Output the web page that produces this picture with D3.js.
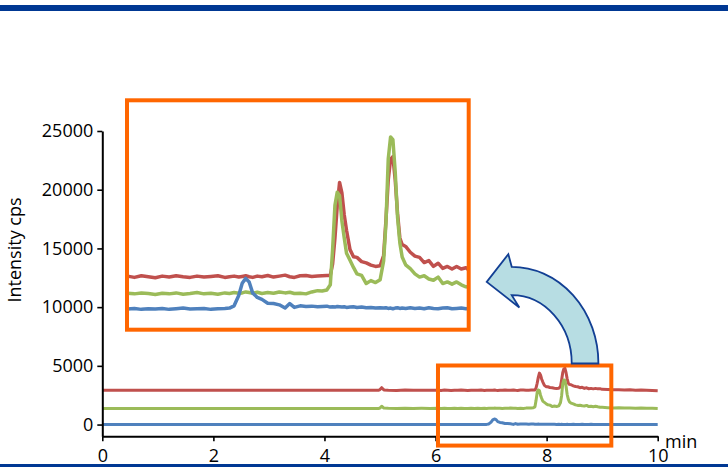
<!DOCTYPE html>
<html>
<head>
<meta charset="utf-8">
<script src="https://cdn.jsdelivr.net/npm/d3@7"></script>
<style>
  html, body { margin: 0; padding: 0; background: #fff; }
  svg { display: block; font-family: "Open Sans", sans-serif; }
</style>
</head>
<body>
<svg id="chart" width="728" height="467"></svg>
<script>
// retention time grid, min (finer around the peaks)
const times = [
  0, 4.97, 5.00, 5.03, 5.07, 5.15, 5.30, 5.45, 5.60, 5.75, 5.90,
  6.04, 6.10, 6.16, 6.22, 6.28, 6.34, 6.40, 6.46, 6.52, 6.58,
  6.64, 6.70, 6.76, 6.82, 6.88, 6.92, 6.96, 7.00, 7.03, 7.06,
  7.09, 7.12, 7.16, 7.20, 7.25, 7.30, 7.35, 7.40, 7.44, 7.48,
  7.53, 7.58, 7.63, 7.68, 7.72, 7.76, 7.79, 7.81, 7.83, 7.85,
  7.87, 7.89, 7.91, 7.93, 7.96, 7.99, 8.02, 8.06, 8.10, 8.14,
  8.18, 8.22, 8.25, 8.27, 8.29, 8.31, 8.33, 8.35, 8.37, 8.39,
  8.41, 8.44, 8.48, 8.52, 8.56, 8.60, 8.64, 8.68, 8.72, 8.76,
  8.80, 8.84, 8.88, 8.92, 8.96, 9.00,
  9.1, 9.2, 9.3, 9.4, 9.5, 9.6, 9.7, 9.8, 9.9, 10.0
];

// signal above each trace's own baseline, cps
const redSignal = [
  0, 0, 60, 220, 30, 10, -10, 15, 0, 10, -5,
  10, -10, 15, 0, -15, 10, -5, 15, 0, -10,
  10, -5, 5, 15, -10, 0, 10, -5, 5, 15,
  0, -10, 10, 0, 20, -5, 10, 25, 0, -10,
  15, 20, 5, 10, 15, 20, 20, 200, 600, 1100,
  1460, 1300, 960, 720, 420, 310, 300, 235, 215, 180,
  160, 170, 330, 875, 1500, 1820, 1860, 1500, 980, 600,
  500, 470, 380, 320, 300, 220, 250, 160, 210, 130,
  160, 120, 160, 120, 140, 80,
  60, 40, 50, 20, 40, 10, 30, 0, -20, -40
];
const greenSignal = [
  0, 0, 50, 200, 40, 20, 10, 25, 10, 20, 15,
  20, 10, 25, 15, 0, 20, 10, 25, 5, 15,
  30, 10, 20, 5, 25, 15, 30, 20, 25, 40,
  30, 20, 35, 15, 30, 20, 40, 25, 35, 15,
  20, 10, 40, 60, 55, 70, 150, 700, 1380, 1585,
  1530, 1140, 880, 640, 530, 420, 320, 295, 170, 215,
  185, 230, 520, 1100, 2100, 2440, 2400, 1900, 1200, 800,
  580, 460, 400, 320, 270, 290, 240, 220, 270, 170,
  195, 160, 195, 150, 120, 110,
  80, 60, 70, 40, 50, 30, 40, 20, 30, 10
];
const blueSignal = [
  0, 0, 5, 0, -5, 5, 0, 10, -5, 5, 0,
  0, 10, -5, 5, 0, 10, -5, 5, 15, 0,
  5, 10, -5, 5, 10, 15, 50, 210, 400, 475,
  420, 250, 180, 150, 90, 85, 65, 15, 85, 25,
  50, 40, 45, 35, 40, 45, 30, 35, 30, 40,
  35, 30, 35, 25, 30, 35, 25, 30, 20, 25,
  15, 20, 15, 20, 10, 15, 5, 15, 20, 10,
  15, 10, 20, 10, 15, 5, 20, 10, 5, 15,
  20, 5, 10, 15, 5, 10,
  5, 10, 0, 5, -5, 10, 0, 5, 0, 5
];

const seriesColors = ["#c0504d", "#9bbb59", "#4f81bd"];
const mainOffsets = [2920, 1360, 0];    // stacking offsets in the full view
const insetOffsets = [500, 225, 0];     // stacking offsets in the enlarged view
const xTicks = [0, 2, 4, 6, 8, 10];
const yTicks = [0, 5000, 10000, 15000, 20000, 25000];
const zoomWindow = [6.044, 9.165];      // min, region shown enlarged
const zoomRange = [-1790, 5030];        // cps

const signals = [redSignal, greenSignal, blueSignal];
signals.forEach(s => { if (s.length !== times.length) console.error("length mismatch", s.length); });

const svg = d3.select("#chart");
const W = 728;
const orange = "#ff6600";

// slide rules top and bottom
svg.append("rect").attr("x", 0).attr("y", 5).attr("width", W).attr("height", 6).attr("fill", "#003893");
svg.append("rect").attr("x", 0).attr("y", 464).attr("width", W).attr("height", 3).attr("fill", "#003893");

const x = d3.scaleLinear().domain([0, 10]).range([102.3, 657.7]);
const y = d3.scaleLinear().domain([-1000, 25000]).range([436.3, 131]);

const traces = signals.map((s, i) => times.map((t, j) => ({ t: t, v: s[j] })));

// full chromatogram
const gMain = svg.append("g");
traces.forEach((pts, i) => {
  const line = d3.line().x(d => x(d.t)).y(d => y(d.v + mainOffsets[i]));
  gMain.append("path")
    .datum(pts)
    .attr("d", line)
    .attr("fill", "none")
    .attr("stroke", seriesColors[i])
    .attr("stroke-width", 3)
    .attr("stroke-linejoin", "round");
});

// axes
const yAxis = d3.axisLeft(y).tickValues(yTicks).tickSize(5).tickSizeOuter(0)
  .tickPadding(4).tickFormat(d3.format("d"));
const xAxis = d3.axisBottom(x).tickValues(xTicks).tickSize(5).tickSizeOuter(0)
  .tickPadding(7.5).tickFormat(d3.format("d"));

const gy = svg.append("g").attr("transform", `translate(${x(0)},0)`).call(yAxis);
const gx = svg.append("g").attr("transform", `translate(0,${y(-1000)})`).call(xAxis);
[gx, gy].forEach(g => {
  g.attr("font-family", null).attr("font-size", null);
  g.select(".domain").attr("stroke", "#000").attr("stroke-width", 2);
  g.selectAll(".tick line").attr("stroke", "#000").attr("stroke-width", 1.6);
  g.selectAll(".tick text").attr("fill", "#000").style("font-size", "18px");
});

svg.append("text")
  .attr("x", 665).attr("y", 448)
  .style("font-size", "18px")
  .text("min");

svg.append("text")
  .attr("transform", "translate(21,250) rotate(-90)")
  .attr("text-anchor", "middle")
  .style("font-size", "18px")
  .text("Intensity cps");

// zoom window on the full chromatogram
const bx0 = x(zoomWindow[0]), bx1 = x(zoomWindow[1]);
const by0 = y(zoomRange[1]), by1 = y(zoomRange[0]);
svg.append("rect")
  .attr("x", bx0).attr("y", by0)
  .attr("width", bx1 - bx0).attr("height", by1 - by0)
  .attr("fill", "none").attr("stroke", orange).attr("stroke-width", 4);

// curved arrow pointing from the window to the enlargement
const cx = bx1 - 99.6, cy = by0 - 2;
const rxo = 86.7, ryo = 96.7, rxi = 60, ryi = 68.3;
const arrowPath = `M${cx + rxo},${cy} A${rxo},${ryo} 0 0 0 ${cx},${cy - ryo}`
  + ` L${cx - 3.4},${cy - 109.3} L${cx - 25},${cy - 81.6} L${cx + 7.6},${cy - 56}`
  + ` L${cx},${cy - ryi} A${rxi},${ryi} 0 0 1 ${cx + rxi},${cy} Z`;
svg.append("path")
  .attr("d", arrowPath)
  .attr("fill", "#b7dde3")
  .attr("stroke", "#123f94")
  .attr("stroke-width", 1.8)
  .attr("stroke-linejoin", "miter");

// enlarged view
const inset = { x0: 127, x1: 468.7, y0: 100.3, y1: 329.7 };
const xi = d3.scaleLinear().domain([6.036, 8.984]).range([inset.x0, inset.x1]);
const yi = d3.scaleLinear().domain([-320, 3233]).range([inset.y1, inset.y0]);

svg.append("clipPath").attr("id", "insetClip")
  .append("rect")
  .attr("x", inset.x0).attr("y", inset.y0)
  .attr("width", inset.x1 - inset.x0).attr("height", inset.y1 - inset.y0);

svg.append("rect")
  .attr("x", inset.x0).attr("y", inset.y0)
  .attr("width", inset.x1 - inset.x0).attr("height", inset.y1 - inset.y0)
  .attr("fill", "#fff");

const gInset = svg.append("g").attr("clip-path", "url(#insetClip)");
traces.forEach((pts, i) => {
  const line = d3.line().x(d => xi(d.t)).y(d => yi(d.v + insetOffsets[i]));
  gInset.append("path")
    .datum(pts.filter(d => d.t >= 5.9 && d.t <= 9.1))
    .attr("d", line)
    .attr("fill", "none")
    .attr("stroke", seriesColors[i])
    .attr("stroke-width", 3.5)
    .attr("stroke-linejoin", "round");
});

svg.append("rect")
  .attr("x", inset.x0).attr("y", inset.y0)
  .attr("width", inset.x1 - inset.x0).attr("height", inset.y1 - inset.y0)
  .attr("fill", "none").attr("stroke", orange).attr("stroke-width", 4);
</script>
</body>
</html>
